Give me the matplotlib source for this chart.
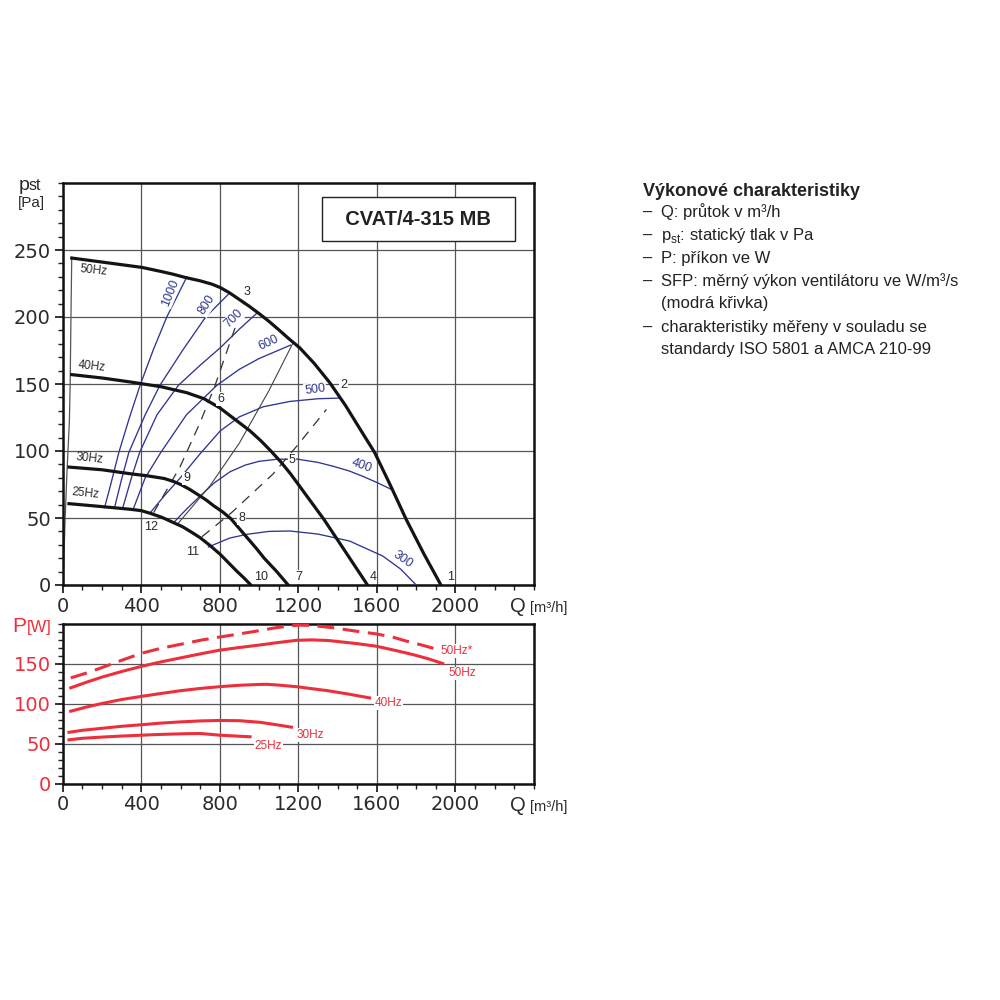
import numpy as np
import matplotlib
matplotlib.use("Agg")
import matplotlib.pyplot as plt
from matplotlib.ticker import MultipleLocator

plt.rcParams['font.family'] = ['Liberation Sans', 'DejaVu Sans']
plt.rcParams['mathtext.fontset'] = 'custom'
plt.rcParams['mathtext.rm'] = 'Liberation Sans'

# ---- upper chart: fan curves p_st(Q) ----
q50 = [46, 200, 404, 500, 560, 624, 700, 760, 802, 850, 900, 950, 1005, 1050, 1100, 1150, 1207,
       1280, 1360, 1440, 1520, 1588, 1670, 1749, 1840, 1926]
p50 = [244, 241, 237, 234, 232, 229.5, 227, 224.5, 222, 218, 213, 208, 202, 196.8, 190.5, 184, 177,
       165.5, 151, 134, 115, 99, 74, 49, 23, 0]
q40 = [46, 200, 345, 500, 632, 720, 802, 869, 954, 1010, 1060, 1110, 1160, 1210, 1270, 1330, 1430, 1552]
p40 = [157, 154.5, 151.5, 148, 143.5, 139, 132, 124.5, 115, 107.5, 100, 92, 83, 73, 61, 49, 27, 0]
q30 = [32, 200, 345, 430, 516, 560, 601, 645, 686, 730, 770, 815, 856, 900, 941, 985, 1026, 1090, 1148]
p30 = [88, 86, 83, 81.5, 79.5, 77.5, 75, 71.5, 67.7, 63.5, 59, 54.5, 49.5, 42, 35, 27.5, 20, 10, 0]
q25 = [32, 200, 345, 400, 446, 505, 565, 610, 655, 700, 750, 802, 845, 886, 925, 958]
p25 = [60.7, 58.5, 56.5, 55.5, 53.5, 50.5, 46.5, 43.5, 39.5, 35.3, 29.5, 22.9, 16.5, 10.4, 5, 0]
fan_labels = ['50Hz', '40Hz', '30Hz', '25Hz']
fan_label_q = [156, 148, 139, 114]
fan_label_p = [235, 163, 94.5, 68.4]

# minimum flow line on the left
q_min = [2, 6, 12, 22, 34, 38, 42, 46]
p_min = [0, 20, 48, 85, 122, 150, 200, 244]

# SFP curves (blue)
sfp_names = ['1000', '800', '700', '600', '500', '400', '300']
sfp_q = [
    [213, 241, 286, 340, 394, 460, 530, 632],
    [264, 300, 337, 420, 495, 610, 728, 844],
    [306, 350, 392, 480, 589, 700, 802, 900, 990],
    [362, 420, 500, 630, 785, 900, 1000, 1160],
    [446, 520, 599, 700, 802, 900, 1021, 1157, 1300, 1410],
    [565, 600, 640, 700, 770, 852, 930, 1000, 1089, 1191, 1300, 1380, 1461, 1530, 1600, 1673],
    [742, 850, 937, 1050, 1157, 1300, 1461, 1630, 1720, 1800],
]
sfp_p = [
    [57.7, 73, 99, 125, 149, 175, 200, 229.9],
    [57.7, 79, 99, 127, 149, 175, 200, 217],
    [57.7, 80, 99, 127, 149, 164, 177, 191, 203],
    [57.7, 80, 99, 127, 149, 161, 169, 179],
    [54, 67, 80, 98, 115, 125.5, 133, 137, 139, 139.5],
    [46.5, 52, 58, 66.4, 76, 84.5, 89.5, 92.3, 93.8, 94, 91.5, 88.5, 85, 81, 76.5, 71.4],
    [28.4, 35, 37.8, 40, 40.3, 38, 32.8, 21.6, 12, 0],
]
sfp_lab_q = [547, 735, 873, 1051, 1285, 1520, 1733]
sfp_lab_p = [218, 209, 199, 180.6, 146, 89, 18.7]
sfp_lab_rot = [68, 57, 45, 25, 8, -20, -35]

# system curves
qa = [463, 597, 699, 776, 923]
pa = [54, 88, 121, 149, 211]
qb = [709, 860, 1072, 1200, 1343]
pb = [36, 54, 83, 105, 131]
qc = [582, 750, 900, 1050, 1174]
pc = [45, 74, 106, 145, 181]

# numbered operating points
pt_names = ['1', '2', '3', '4', '5', '6', '7', '8', '9', '10', '11', '12']
pt_q = [1973, 1429, 938, 1580, 1168, 805, 1200, 911, 631, 1012, 660, 452]
pt_p = [6, 149, 219, 6, 93.5, 139, 6, 49.8, 79.5, 6, 24.5, 43]

# ---- lower chart: power P(Q) ----
qw50s = [41, 120, 190, 300, 404, 500, 600, 700, 798, 900, 1000, 1080, 1157, 1207, 1270, 1328,
         1400, 1450, 1520, 1597, 1680, 1750, 1830, 1901]
pw50s = [132, 138, 144, 154, 163, 169, 174, 179, 183, 187, 191, 194.5, 197, 198, 197.5, 196,
         194, 192, 189.5, 187, 183, 178, 173, 168]
qw50 = [41, 120, 200, 300, 404, 500, 600, 700, 798, 900, 1000, 1100, 1191, 1270, 1350, 1400,
        1500, 1597, 1700, 1786, 1860, 1935]
pw50 = [119.6, 126.5, 133, 140, 146.6, 152, 157, 162, 166.6, 170, 173, 176.3, 179, 179.5, 178.8, 177.5,
        174.8, 171.6, 166, 161, 156, 150]
qw40 = [41, 120, 200, 300, 404, 500, 600, 700, 798, 900, 1000, 1039, 1100, 1191, 1270, 1350, 1450, 1563]
pw40 = [90.4, 95.5, 100, 105, 109, 112.5, 116, 118.8, 121, 122.8, 123.8, 124, 123, 121, 118.5, 116, 112, 107]
qw30 = [32, 100, 200, 300, 404, 500, 600, 700, 798, 900, 1005, 1100, 1165]
pw30 = [64, 66.5, 69, 71.5, 73.5, 75.5, 77, 78.2, 78.8, 78.5, 76.5, 73, 70.4]
qw25 = [32, 100, 200, 300, 404, 480, 560, 640, 700, 750, 798, 870, 954]
pw25 = [54.6, 56.5, 58, 59.3, 60.4, 61.2, 61.8, 62.3, 62.5, 61.5, 60.4, 59.5, 58.4]
pw_labels = ['50Hz*', '50Hz', '40Hz', '30Hz', '25Hz']
pw_lab_q = [2007, 2033, 1659, 1260, 1047]
pw_lab_p = [166, 137.7, 101, 60.6, 47.3]

x_ticks = [0, 400, 800, 1200, 1600, 2000]

BLUE = '#2e3592'
RED = '#ec2f3b'
GRID = '#555555'
TXT = '#2a2a2a'

fig = plt.figure(figsize=(10, 10), dpi=100)
ax1 = fig.add_axes([0.0627, 0.415, 0.4713, 0.402])
ax2 = fig.add_axes([0.0627, 0.2165, 0.4713, 0.160])


def style_axes(ax, ymax, ystep, label_color):
    ax.set_xlim(0, 2400)
    ax.set_ylim(0, ymax)
    ax.set_xticks(x_ticks)
    ax.set_yticks(np.arange(0, ymax, ystep))
    ax.xaxis.set_minor_locator(MultipleLocator(100))
    ax.yaxis.set_minor_locator(MultipleLocator(10))
    ax.tick_params(which='major', direction='out', length=6, width=1.3, color='#222')
    ax.tick_params(which='minor', direction='out', length=3.5, width=1.0, color='#222')
    ax.tick_params(axis='x', labelsize=14, labelcolor=TXT, pad=2.5)
    ax.tick_params(axis='y', labelsize=14, labelcolor=label_color, pad=2.5)
    for lab in ax.get_xticklabels() + ax.get_yticklabels():
        lab.set_family('DejaVu Sans')
    ax.grid(True, which='major', color=GRID, lw=0.9)
    ax.set_axisbelow(True)
    for s in ax.spines.values():
        s.set_linewidth(1.8)
        s.set_color('#111')


style_axes(ax1, 300, 50, TXT)
style_axes(ax2, 200, 50, RED)

white = dict(facecolor='white', edgecolor='none', pad=0.6)

# upper chart
ax1.plot(q_min, p_min, color='#555', lw=0.9, zorder=2)
for qs, ps in zip(sfp_q, sfp_p):
    ax1.plot(qs, ps, color=BLUE, lw=0.95, zorder=3)
ax1.plot(qa, pa, color='#333', lw=0.9, dashes=(8, 6), zorder=3)
ax1.plot(qb, pb, color='#333', lw=0.9, dashes=(8, 6), zorder=3)
ax1.plot(qc, pc, color='#444', lw=0.8, zorder=3)
for qs, ps in [(q50, p50), (q40, p40), (q30, p30), (q25, p25)]:
    ax1.plot(qs, ps, color='#141414', lw=2.3, zorder=4, solid_joinstyle='round')

for t, q, p in zip(fan_labels, fan_label_q, fan_label_p):
    ax1.text(q, p, t, fontsize=8.5, color=TXT, ha='center', va='center', rotation=-6, zorder=5)
for t, q, p, r in zip(sfp_names, sfp_lab_q, sfp_lab_p, sfp_lab_rot):
    ax1.text(q, p, t, fontsize=9, color=BLUE, ha='center', va='center', rotation=r,
             bbox=white, zorder=5)
for t, q, p in zip(pt_names, pt_q, pt_p):
    ax1.text(q, p, t, fontsize=9, color=TXT, ha='center', va='center', bbox=white, zorder=5)

ax1.text(1810, 273, '  CVAT/4-315 MB  ', fontsize=14.5, weight='bold', color='#222',
         ha='center', va='center', zorder=6,
         bbox=dict(boxstyle='square,pad=0.62', facecolor='white', edgecolor='#222', lw=1.0))

# lower chart
ax2.plot(qw50s, pw50s, color=RED, lw=2.2, dashes=(5.5, 2.8), zorder=4)
for qs, ps in [(qw50, pw50), (qw40, pw40), (qw30, pw30), (qw25, pw25)]:
    ax2.plot(qs, ps, color=RED, lw=2.2, zorder=4, solid_joinstyle='round')
for t, q, p in zip(pw_labels, pw_lab_q, pw_lab_p):
    ax2.text(q, p, t, fontsize=8.5, color=RED, ha='center', va='center', bbox=white, zorder=5)

# axis titles
fig.text(0.019, 1 - 0.190, 'p', fontsize=14, color=TXT, va='baseline')
fig.text(0.029, 1 - 0.190, 'st', fontsize=11.5, color=TXT, va='baseline')
fig.text(0.018, 1 - 0.207, '[Pa]', fontsize=11, color=TXT, va='baseline')
fig.text(0.012, 1 - 0.632, 'P', fontsize=15, color=RED, va='baseline')
fig.text(0.027, 1 - 0.632, '[W]', fontsize=12, color=RED, va='baseline')
for yb in (0.612, 0.811):
    fig.text(0.510, 1 - yb, 'Q', fontsize=14.5, color=TXT, va='baseline')
    fig.text(0.530, 1 - yb, '[m³/h]', fontsize=10.5, color=TXT, va='baseline')

# description block
fig.text(0.643, 1 - 0.196, 'Výkonové charakteristiky', fontsize=13, weight='bold',
         color='#222', va='baseline')
items = [
    ('–', 'Q: průtok v m³/h', 0.2173),
    ('–', r'p$_{\mathrm{st}}$: statický tlak v Pa', 0.2400),
    ('–', 'P: příkon ve W', 0.2627),
    ('–', 'SFP: měrný výkon ventilátoru ve W/m³/s', 0.2860),
    ('', '(modrá křivka)', 0.3083),
    ('–', 'charakteristiky měřeny v souladu se', 0.3317),
    ('', 'standardy ISO 5801 a AMCA 210-99', 0.3543),
]
for d, t, yb in items:
    if d:
        fig.text(0.643, 1 - yb, d, fontsize=12, color='#222', va='baseline')
    fig.text(0.6607, 1 - yb, t, fontsize=12, color='#222', va='baseline')

fig.savefig('out.png', dpi=100, facecolor='white')
